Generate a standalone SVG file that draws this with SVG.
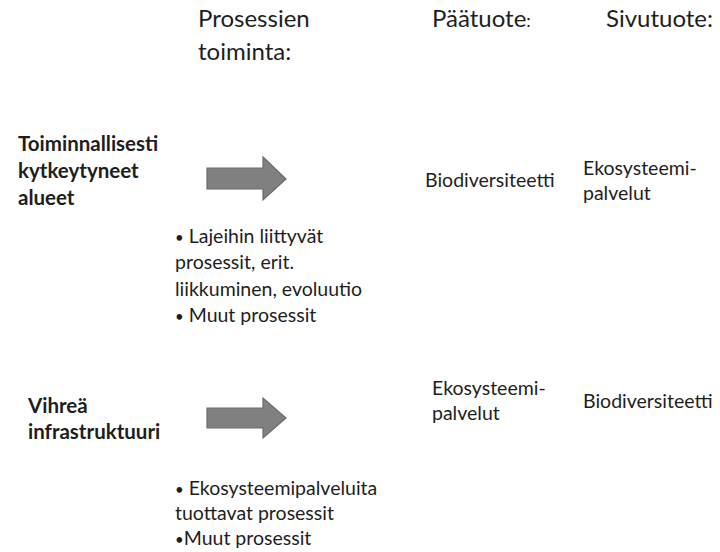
<svg xmlns="http://www.w3.org/2000/svg" width="720" height="552" viewBox="0 0 720 552">
<style>
text{font-family:Lato,"Open Sans",sans-serif;fill:#1e1e1e}
.h{font-size:24px}
.b{font-size:20.5px;font-weight:bold}
.t{font-size:19.5px}
.bul{font-size:15px}
.arr{fill:#808080;stroke:#6a6a6a;stroke-width:1.2}
</style>
<rect width="720" height="552" fill="#fff"/>
<g id="headers">
<text class="h" x="198" y="27">Prosessien</text>
<text class="h" x="198" y="60">toiminta:</text>
<text class="h" x="432" y="27">Päätuote<tspan font-size="18">:</tspan></text>
<text class="h" x="606" y="27">Sivutuote:</text>
</g>
<g id="row1-label">
<text class="b" x="18" y="151">Toiminnallisesti</text>
<text class="b" x="18" y="178">kytkeytyneet</text>
<text class="b" x="18" y="205">alueet</text>
</g>
<g id="connectors">
<polygon id="arrow1" class="arr" points="207,168 263,168 263,157 286,179 263,200 263,189 207,189"/>
<polygon id="arrow2" class="arr" points="207,408 263,408 263,398 286,418 263,438 263,428 207,428"/>
</g>
<g id="row1-process">
<text class="t" x="175" y="243"><tspan class="bul">•</tspan> Lajeihin liittyvät</text>
<text class="t" x="175" y="269">prosessit, erit.</text>
<text class="t" x="175" y="296">liikkuminen, evoluutio</text>
<text class="t" x="175" y="322"><tspan class="bul">•</tspan> Muut prosessit</text>
</g>
<g id="row1-main"><text class="t" x="425" y="187">Biodiversiteetti</text></g>
<g id="row1-side">
<text class="t" x="583" y="175">Ekosysteemi-</text>
<text class="t" x="583" y="200">palvelut</text>
</g>
<g id="row2-label">
<text class="b" x="28" y="413">Vihreä</text>
<text class="b" x="28" y="439">infrastruktuuri</text>
</g>
<g id="row2-process">
<text class="t" x="175" y="495"><tspan class="bul">•</tspan> Ekosysteemipalveluita</text>
<text class="t" x="175" y="520">tuottavat prosessit</text>
<text class="t" x="175" y="545"><tspan class="bul">•</tspan>Muut prosessit</text>
</g>
<g id="row2-main">
<text class="t" x="432" y="395">Ekosysteemi-</text>
<text class="t" x="432" y="420">palvelut</text>
</g>
<g id="row2-side"><text class="t" x="583" y="408">Biodiversiteetti</text></g>
</svg>
